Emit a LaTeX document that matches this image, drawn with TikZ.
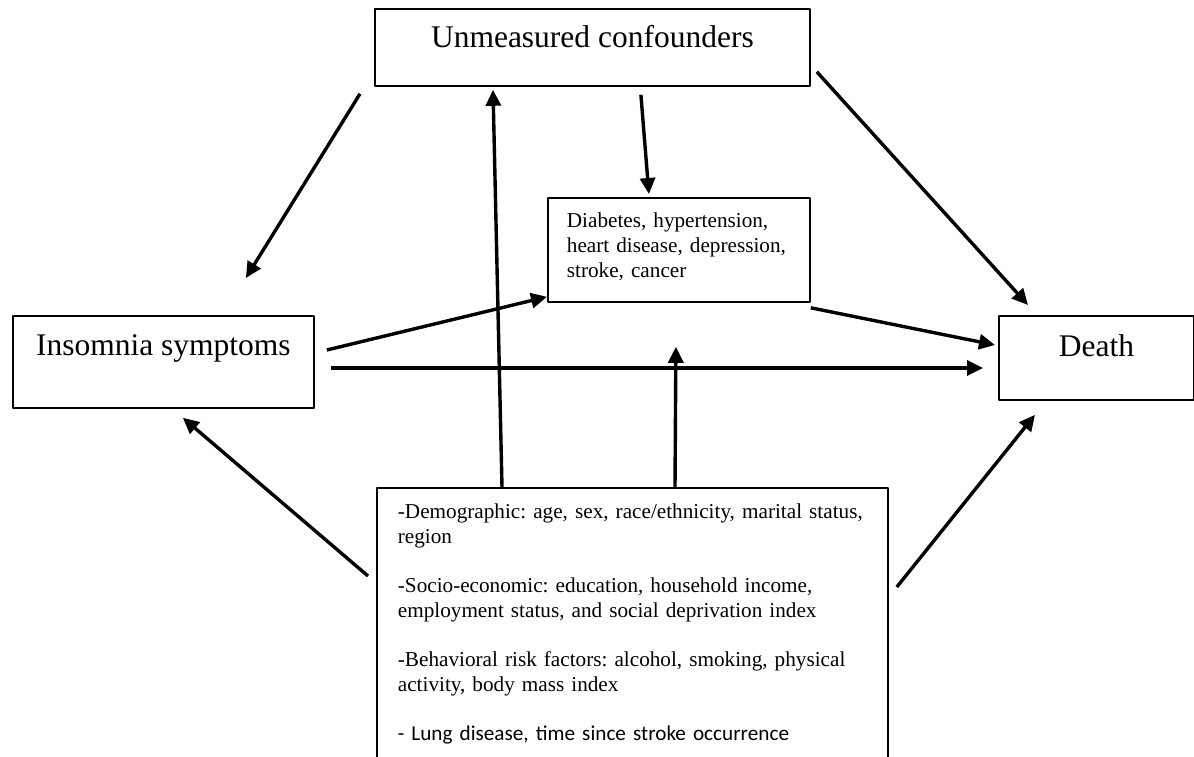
\documentclass[tikz,border=0pt]{standalone}
\usepackage{fontspec}
\setmainfont{Liberation Serif}
\newfontfamily\carlito{Carlito}
\usetikzlibrary{arrows.meta}
\begin{document}
\begin{tikzpicture}[x=1pt, y=-1pt, line join=round, >={Triangle[length=16pt,width=15pt]},
hop/.style={draw, line width=1.8pt, inner sep=0pt, anchor=north west},
lon/.style={font=\fontsize{31.5}{36}\selectfont},
nho/.style={font=\fontsize{21.2}{25}\selectfont\frenchspacing, align=left},
mt/.style={->, line width=3.4pt}]
\path[use as bounding box, clip] (0,0) rectangle (1194,757);
%Vẽ các hộp
\node[hop, lon, minimum width=435pt, text height=39pt, text depth=38pt] (unm) at (374,8) {Unmeasured confounders};
\node[hop, lon, minimum width=301pt, text height=40pt, text depth=52pt] (insom) at (12,315) {Insomnia symptoms};
\node[hop, lon, minimum width=195pt, text height=41pt, text depth=43pt] (death) at (998,315) {Death};
\node[hop, nho, text width=224pt, inner xsep=19pt, text height=30pt, text depth=74pt] (mid) at (547,197)
{Diabetes, hypertension,\\ heart disease, depression,\\ stroke, cancer};
\node[hop, nho, text width=469pt, inner xsep=21pt, text height=31pt, text depth=290pt] (low) at (376,487)
{-Demographic: age, sex, race/ethnicity, marital status,\\ region\\[24pt]
-Socio-economic: education, household income,\\ employment status, and social deprivation index\\[24pt]
-Behavioral risk factors: alcohol, smoking, physical\\ activity, body mass index\\[24pt]
{\carlito - Lung disease, time since stroke occurrence}};
\coordinate (tacdong) at ([shift={(-3,44)}]mid.south);
%Vẽ các mũi tên
\draw[mt] ([shift={(-14,7)}]unm.south west) -- ([shift={(82.5,-37)}]insom.north);
\draw[mt] ([shift={(48.5,8)}]unm.south) -- ([shift={(-30,-3)}]mid.north);
\draw[mt] ([shift={(6,-15)}]unm.south east) -- ([shift={(30,-10)}]death.north west);
\draw[mt] ([shift={(12,35)}]insom.north east) -- ([shift={(0,-6)}]mid.south west);
\draw[mt] ([shift={(0,5)}]mid.south east) -- ([shift={(-3,30)}]death.north west);
\draw[mt] ([shift={(16,53)}]insom.north east) -- ([shift={(-15,53)}]death.north west);
\draw[mt] ([shift={(126,0)}]low.north west) -- ([shift={(119,3)}]unm.south west);
\draw[mt] ([shift={(299,0)}]low.north west) -- (tacdong);
\draw[mt] ([shift={(-8,89)}]low.north west) -- ([shift={(19.5,9)}]insom.south);
\draw[mt] ([shift={(8,100)}]low.north east) -- ([shift={(37,14)}]death.south west);
\end{tikzpicture}
\end{document}
